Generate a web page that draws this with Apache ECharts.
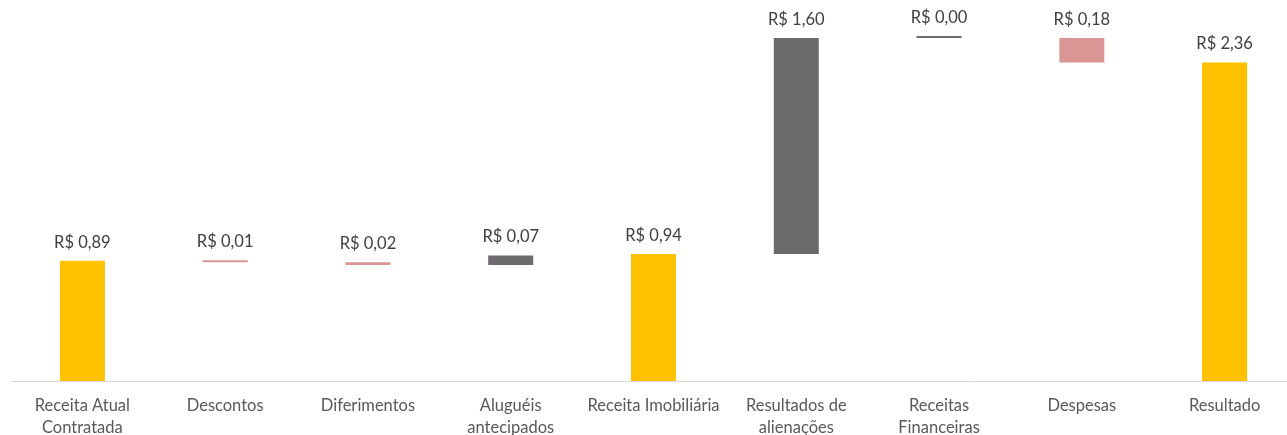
<!DOCTYPE html>
<html>
<head>
<meta charset="utf-8">
<script src="https://cdn.jsdelivr.net/npm/echarts@6/dist/echarts.min.js"></script>
<style>
html,body{margin:0;padding:0;background:#fff;}
#c{width:1287px;height:435px;}
</style>
</head>
<body>
<div id="c"></div>
<script>
const categories = ['Receita Atual\nContratada','Descontos','Diferimentos','Aluguéis\nantecipados','Receita Imobiliária','Resultados de\nalienações','Receitas\nFinanceiras','Despesas','Resultado'];
const values = [0.89, -0.01, -0.02, 0.07, 0.94, 1.60, 0.00, -0.18, 2.36];
const kinds = ['total','delta','delta','delta','total','delta','delta','delta','total'];

const COLORS = {total:'#FFC000', pos:'#6D6A6E', neg:'#DA9694'};

const base = [], height = [], colors = [];
let running = 0;
values.forEach((v, i) => {
  if (kinds[i] === 'total') {
    base.push(0); height.push(v); colors.push(COLORS.total); running = v;
  } else if (v >= 0) {
    base.push(running); height.push(v); colors.push(COLORS.pos); running += v;
  } else {
    base.push(running + v); height.push(-v); colors.push(COLORS.neg); running += v;
  }
});

const FONT = 'Lato, "Open Sans", sans-serif';
const chart = echarts.init(document.getElementById('c'), null, {renderer:'canvas'});
chart.setOption({
  animation: false,
  grid: {left: 11, width: 1285, top: 30, height: 351, containLabel: false, outerBoundsMode: 'none'},
  xAxis: {
    type: 'category',
    data: categories,
    axisLine: {lineStyle: {color: '#D9D9D9', width: 1}},
    axisTick: {show: false},
    axisLabel: {color: '#595959', fontFamily: FONT, fontSize: 16.5, lineHeight: 22, margin: 14, interval: 0}
  },
  yAxis: {
    type: 'value', min: 0, max: 2.6,
    show: false,
    splitLine: {show: false}
  },
  series: [
    {
      type: 'bar', stack: 'w', data: base, barWidth: 45,
      itemStyle: {color: 'transparent'}, silent: true
    },
    {
      type: 'bar', stack: 'w', barWidth: 45, barMinHeight: 2,
      data: height.map((h, i) => ({value: h, itemStyle: {color: colors[i]}})),
      label: {
        show: true, position: 'top', distance: 10,
        color: '#404040', fontFamily: FONT, fontSize: 16.5,
        formatter: p => 'R$ ' + Math.abs(values[p.dataIndex]).toFixed(2).replace('.', ',')
      }
    }
  ]
});
</script>
</body>
</html>
